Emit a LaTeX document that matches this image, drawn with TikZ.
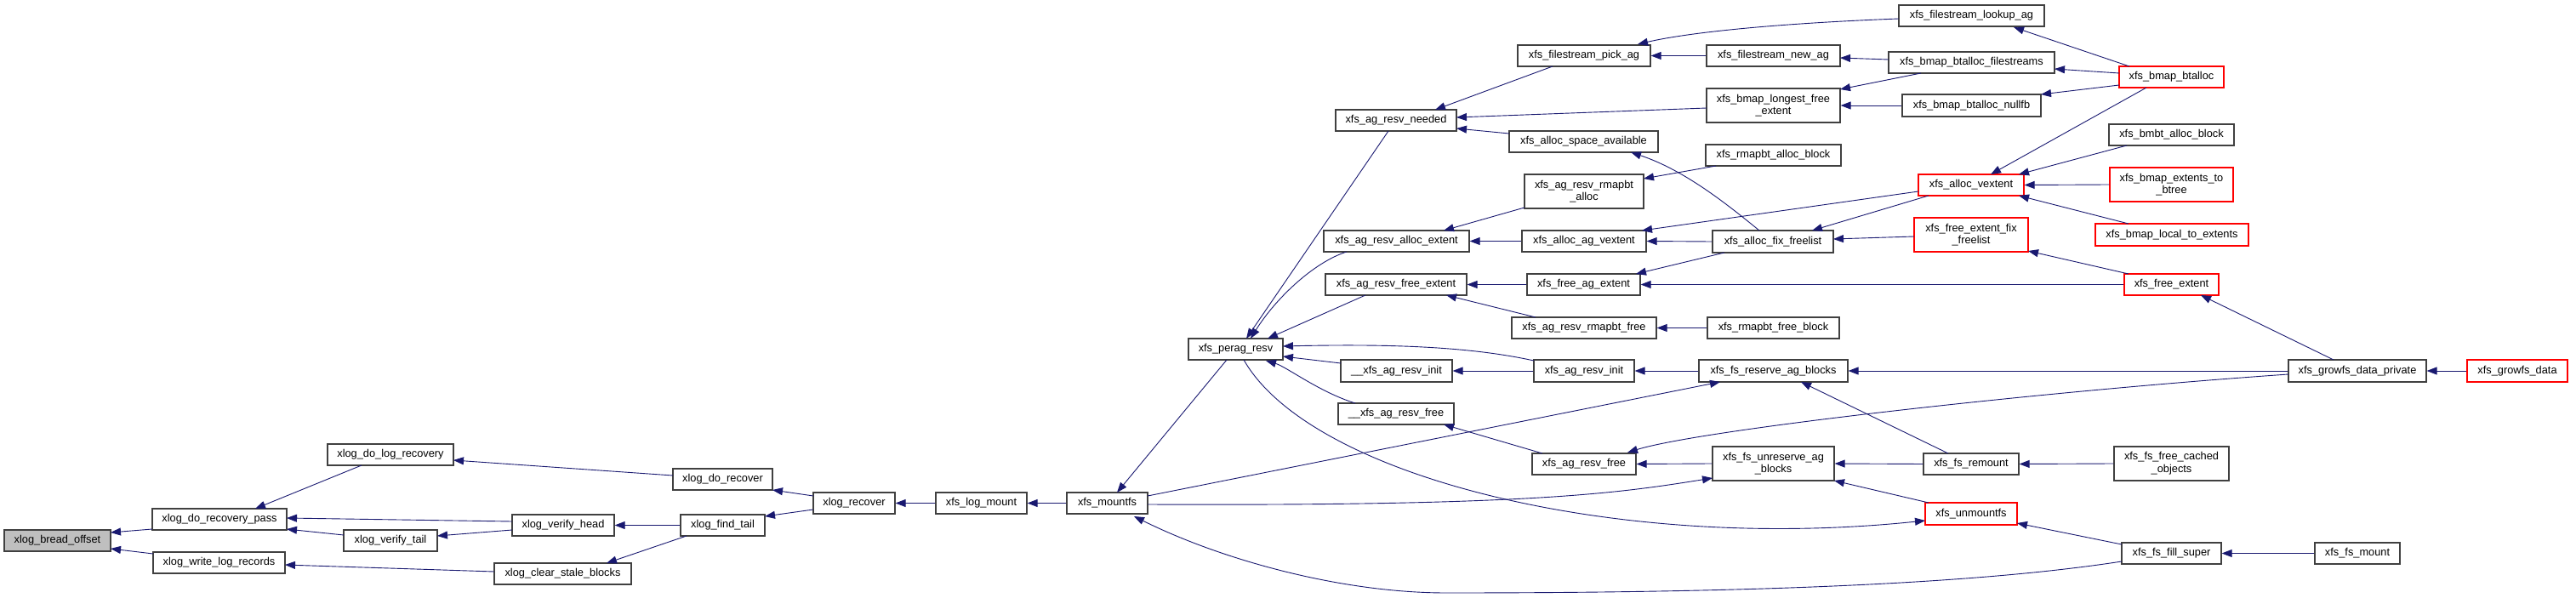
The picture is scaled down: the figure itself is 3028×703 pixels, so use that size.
\documentclass[tikz,border=0pt]{standalone}
\usepackage{fontspec}
\setmainfont{Liberation Sans}
\usetikzlibrary{arrows.meta,calc}
\definecolor{edgec}{HTML}{191970}
\definecolor{boxc}{HTML}{404040}
\definecolor{redc}{HTML}{FF0000}
\definecolor{grayfill}{HTML}{BFBFBF}
\tikzset{
  nodebox/.style={draw=boxc,line width=1.2pt,fill=white,inner sep=0pt,align=center,
    font=\fontsize{12.8}{14.7}\selectfont},
  nodered/.style={nodebox,draw=redc},
  noderoot/.style={nodebox,fill=grayfill},
  ce/.style={draw=edgec,line width=0.9pt,-{Triangle[length=12pt,width=9pt]}}
}
\newcommand\mkbox[7][nodebox]{%
  \pgfmathsetmacro\mkbw{#5-#3}\pgfmathsetmacro\mkbh{#6-#4}%
  \node[#1,minimum width=\mkbw pt,minimum height=\mkbh pt] (#2) at ({(#3+#5)/2},{(#4+#6)/2}) {#7};}
\begin{document}
\begin{tikzpicture}[x=1pt,y=-1pt]
\useasboundingbox (0,0) rectangle (3028,703);
\mkbox[noderoot]{bo}{5}{623}{130}{648}{xlog\_bread\_offset}
\mkbox{drp}{179}{598}{337}{623}{xlog\_do\_recovery\_pass}
\mkbox{wlr}{180}{649}{335}{674}{xlog\_write\_log\_records}
\mkbox{dlr}{385}{522}{533}{547}{xlog\_do\_log\_recovery}
\mkbox{vt}{404}{623}{514}{648}{xlog\_verify\_tail}
\mkbox{vh}{602}{605}{722}{630}{xlog\_verify\_head}
\mkbox{csb}{581}{662}{742}{687}{xlog\_clear\_stale\_blocks}
\mkbox{dr}{791}{551}{908}{576}{xlog\_do\_recover}
\mkbox{ft}{800}{605}{899}{630}{xlog\_find\_tail}
\mkbox{xr}{956}{579}{1052}{604}{xlog\_recover}
\mkbox{lm}{1100}{579}{1207}{604}{xfs\_log\_mount}
\mkbox{mf}{1254}{579}{1349}{604}{xfs\_mountfs}
\mkbox{pr}{1397}{398}{1508}{423}{xfs\_perag\_resv}
\mkbox{rn}{1570}{129}{1712}{154}{xfs\_ag\_resv\_needed}
\mkbox{rae}{1556}{271}{1727}{296}{xfs\_ag\_resv\_alloc\_extent}
\mkbox{rfe}{1558}{322}{1724}{347}{xfs\_ag\_resv\_free\_extent}
\mkbox{uri}{1576}{423}{1707}{449}{\_\_xfs\_ag\_resv\_init}
\mkbox{urf}{1573}{474}{1709}{499}{\_\_xfs\_ag\_resv\_free}
\mkbox{fpa}{1784}{53}{1940}{78}{xfs\_filestream\_pick\_ag}
\mkbox{asa}{1774}{154}{1949}{179}{xfs\_alloc\_space\_available}
\mkbox{rra}{1792}{205}{1932}{245}{xfs\_ag\_resv\_rmapbt\\\_alloc}
\mkbox{aav}{1789}{271}{1935}{296}{xfs\_alloc\_ag\_vextent}
\mkbox{fae}{1795}{322}{1928}{347}{xfs\_free\_ag\_extent}
\mkbox{rrf}{1777}{373}{1947}{398}{xfs\_ag\_resv\_rmapbt\_free}
\mkbox{ri}{1803}{423}{1921}{449}{xfs\_ag\_resv\_init}
\mkbox{rf}{1801}{533}{1923}{558}{xfs\_ag\_resv\_free}
\mkbox{fna}{2006}{53}{2163}{78}{xfs\_filestream\_new\_ag}
\mkbox{blf}{2006}{104}{2163}{144}{xfs\_bmap\_longest\_free\\\_extent}
\mkbox{rab}{2005}{170}{2164}{195}{xfs\_rmapbt\_alloc\_block}
\mkbox{aff}{2013}{271}{2155}{297}{xfs\_alloc\_fix\_freelist}
\mkbox{rfb}{2007}{373}{2162}{398}{xfs\_rmapbt\_free\_block}
\mkbox{fsr}{1997}{423}{2172}{449}{xfs\_fs\_reserve\_ag\_blocks}
\mkbox{fsu}{2013}{525}{2156}{565}{xfs\_fs\_unreserve\_ag\\\_blocks}
\mkbox{fla}{2232}{6}{2403}{31}{xfs\_filestream\_lookup\_ag}
\mkbox{bbf}{2220}{61}{2415}{86}{xfs\_bmap\_btalloc\_filestreams}
\mkbox{bbn}{2236}{111}{2399}{137}{xfs\_bmap\_btalloc\_nullfb}
\mkbox[nodered]{av}{2255}{205}{2379}{230}{xfs\_alloc\_vextent}
\mkbox[nodered]{fef}{2250}{256}{2384}{296}{xfs\_free\_extent\_fix\\\_freelist}
\mkbox{rem}{2261}{533}{2373}{558}{xfs\_fs\_remount}
\mkbox[nodered]{um}{2263}{591}{2371}{617}{xfs\_unmountfs}
\mkbox[nodered]{bb}{2491}{78}{2614}{103}{xfs\_bmap\_btalloc}
\mkbox{bab}{2479}{146}{2626}{171}{xfs\_bmbt\_alloc\_block}
\mkbox[nodered]{bet}{2480}{197}{2625}{237}{xfs\_bmap\_extents\_to\\\_btree}
\mkbox[nodered]{blte}{2463}{263}{2643}{289}{xfs\_bmap\_local\_to\_extents}
\mkbox[nodered]{fe}{2497}{322}{2608}{347}{xfs\_free\_extent}
\mkbox{fco}{2485}{525}{2620}{565}{xfs\_fs\_free\_cached\\\_objects}
\mkbox{ffs}{2494}{638}{2611}{663}{xfs\_fs\_fill\_super}
\mkbox{gdp}{2690}{423}{2852}{449}{xfs\_growfs\_data\_private}
\mkbox{fm}{2721}{638}{2821}{663}{xfs\_fs\_mount}
\mkbox[nodered]{gd}{2900}{423}{3018}{449}{xfs\_growfs\_data}

\draw[ce] ($(drp)+(-79,11.5)$) -- ($(bo)+(62.5,-9.5)$);
\draw[ce] ($(wlr)+(-77.5,-10.5)$) -- ($(bo)+(62.5,9.5)$);
\draw[ce] ($(dlr)+(-34,12.5)$) -- ($(drp)+(42,-12.5)$);
\draw[ce] ($(vh)+(-60,-4.5)$) -- ($(drp)+(79,-1.5)$);
\draw[ce] ($(vt)+(-55,-6.5)$) -- ($(drp)+(79,11.5)$);
\draw[ce] ($(csb)+(-80.5,-2.5)$) -- ($(wlr)+(77.5,2.5)$);
\draw[ce] ($(dr)+(-58.5,-4.5)$) -- ($(dlr)+(74,6.5)$);
\draw[ce] ($(vh)+(-60,5.5)$) -- ($(vt)+(55,-5.5)$);
\draw[ce] (ft.west) -- (vh.east);
\draw[ce] ($(ft)+(-42.5,12.5)$) -- ($(csb)+(51.5,-12.5)$);
\draw[ce] ($(xr)+(-48,-8.5)$) -- ($(dr)+(58.5,12.5)$);
\draw[ce] ($(xr)+(-48,7.5)$) -- ($(ft)+(49.5,-10.5)$);
\draw[ce] (lm.west) -- (xr.east);
\draw[ce] (mf.west) -- (lm.east);
\draw[ce] ($(pr)+(-10.5,12.5)$) -- ($(mf)+(11.5,-12.5)$);
\draw[ce] ($(rn)+(-9,12.5)$) -- ($(pr)+(12.5,-12.5)$);
\draw[ce] ($(rae)+(-58.5,12.5)$) .. controls ($(rae)+(-96.5,24.5)$) and ($(pr)+(47.5,-60.5)$) .. ($(pr)+(17.5,-12.5)$);
\draw[ce] ($(rfe)+(-36,12.5)$) -- ($(pr)+(37.5,-12.5)$);
\draw[ce] ($(ri)+(-59,-12)$) .. controls ($(ri)+(-132,-28)$) and ($(pr)+(187.5,-6.5)$) .. ($(pr)+(55.5,-3.5)$);
\draw[ce] ($(uri)+(-65.5,-9)$) -- ($(pr)+(55.5,8.5)$);
\draw[ce] ($(urf)+(-48,-12.5)$) .. controls ($(urf)+(-90,-25.5)$) and ($(pr)+(59.5,20.5)$) .. ($(pr)+(35.5,13.5)$);
\draw[ce] ($(pr)+(9.5,12.5)$) .. controls ($(pr)+(87.5,149.5)$) and ($(um)+(-417,46)$) .. ($(um)+(-54,8)$);
\draw[ce] ($(mf)+(47.5,-8.5)$) -- ($(fsr)+(-62.5,13)$);
\draw[ce] ($(mf)+(47.5,1.5)$) .. controls ($(mf)+(498.5,3.5)$) and ($(fsu)+(-184.5,35)$) .. ($(fsu)+(-71.5,17)$);
\draw[ce] ($(ffs)+(-58.5,9.5)$) .. controls ($(ffs)+(-252.5,39.5)$) and ($(ffs)+(-552.5,46.5)$) .. ($(ffs)+(-852.5,46.5)$)
   .. controls ($(mf)+(278.5,105.5)$) and ($(mf)+(138.5,68.5)$) .. ($(mf)+(31.5,15.5)$);
\draw[ce] ($(fpa)+(-37,12.5)$) -- ($(rn)+(46,-12.5)$);
\draw[ce] ($(blf)+(-78.5,3)$) -- ($(rn)+(71,-3.5)$);
\draw[ce] ($(asa)+(-87.5,-9.5)$) -- ($(rn)+(71,9.5)$);
\draw[ce] ($(fla)+(-85.5,3.5)$) .. controls ($(fla)+(-217.5,8.5)$) and ($(fpa)+(128,-28.5)$) .. ($(fpa)+(63,-13.5)$);
\draw[ce] (fna.west) -- (fpa.east);
\draw[ce] ($(rra)+(-70,19)$) -- ($(rae)+(55.5,-12.5)$);
\draw[ce] (aav.west) -- (rae.east);
\draw[ce] (aff.west) -- (aav.east);
\draw[ce] ($(av)+(-62,7.5)$) -- ($(aav)+(68,-12.5)$);
\draw[ce] (fae.west) -- (rfe.east);
\draw[ce] (fe.west) -- (fae.east);
\draw[ce] ($(aff)+(-57,13)$) -- ($(fae)+(61.5,-12.5)$);
\draw[ce] ($(rrf)+(-57,-12.5)$) -- ($(rfe)+(59,12.5)$);
\draw[ce] ($(aff)+(-16,-13)$) .. controls ($(aff)+(-54,-44)$) and ($(asa)+(118.5,33.5)$) .. ($(asa)+(55.5,12.5)$);
\draw[ce] ($(rab)+(-67.5,12.5)$) -- ($(rra)+(70,-15)$);
\draw[ce] (rfb.west) -- (rrf.east);
\draw[ce] (ri.west) -- (uri.east);
\draw[ce] (fsr.west) -- (ri.east);
\draw[ce] ($(rf)+(-49,-12.5)$) -- ($(urf)+(56,12.5)$);
\draw[ce] (fsu.west) -- (rf.east);
\draw[ce] ($(gdp)+(-81,4)$) .. controls ($(gdp)+(-371,24)$) and ($(rf)+(138,-40.5)$) .. ($(rf)+(51,-13.5)$);
\draw[ce] ($(bbf)+(-97.5,-3.5)$) -- ($(fna)+(78.5,2.5)$);
\draw[ce] ($(bbf)+(-59.5,12.5)$) -- ($(blf)+(78.5,-19)$);
\draw[ce] (bbn.west) -- (blf.east);
\draw[ce] ($(bb)+(-49.5,-12.5)$) -- ($(fla)+(49.5,13.5)$);
\draw[ce] ($(bb)+(-61.5,-4.5)$) -- ($(bbf)+(97.5,7.5)$);
\draw[ce] ($(bb)+(-61.5,9.5)$) -- ($(bbn)+(81.5,-13)$);
\draw[ce] ($(bb)+(-29.5,12.5)$) -- ($(av)+(23,-12.5)$);
\draw[ce] ($(bab)+(-52.5,12.5)$) -- ($(av)+(56,-12.5)$);
\draw[ce] (bet.west) -- (av.east);
\draw[ce] ($(blte)+(-51,-13)$) -- ($(av)+(56,12.5)$);
\draw[ce] ($(av)+(-50,12.5)$) -- ($(aff)+(46,-13)$);
\draw[ce] ($(fef)+(-67,2)$) -- ($(aff)+(71,-3)$);
\draw[ce] ($(fe)+(-50.5,-12.5)$) -- ($(fef)+(67,19)$);
\draw[ce] ($(gdp)+(-28,-13)$) -- ($(fe)+(34.5,12.5)$);
\draw[ce] (gdp.west) -- (fsr.east);
\draw[ce] (gd.west) -- (gdp.east);
\draw[ce] (fm.west) -- (ffs.east);
\draw[ce] ($(rem)+(-27,-12.5)$) -- ($(fsr)+(32.5,13)$);
\draw[ce] (rem.west) -- (fsu.east);
\draw[ce] ($(um)+(-50,-13)$) -- ($(fsu)+(71.5,20)$);
\draw[ce] (fco.west) -- (rem.east);
\draw[ce] ($(ffs)+(-58.5,-10.5)$) -- ($(um)+(54,11)$);
\end{tikzpicture}
\end{document}
